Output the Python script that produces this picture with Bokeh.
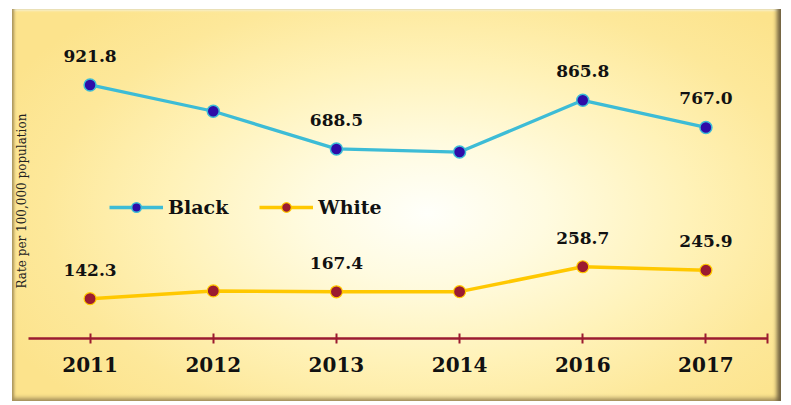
from bokeh.plotting import figure
from bokeh.models import (Range1d, FixedTicker, Legend, LegendItem, Title,
                          ColumnDataSource)
from bokeh.embed import file_html
from bokeh.resources import INLINE
from bokeh.core.properties import value

# ---- data ----
years = ["2011", "2012", "2013", "2014", "2016", "2017"]
black = [921.8, 826.0, 688.5, 677.0, 865.8, 767.0]
white = [142.3, 170.5, 167.4, 167.9, 258.7, 245.9]
black_labelled = [True, False, True, False, True, True]
white_labelled = [True, False, True, False, True, True]
series_names = ["Black", "White"]
y_title = "Rate per 100,000 population"

xs = list(range(len(years)))
FONT = "DejaVu Serif"

panel_css = {
    "background": "radial-gradient(ellipse 62% 70% at 54% 52%, #fffffa 0%, #fffbe0 25%, #fff2b8 55%, #fde89a 80%, #fce38c 100%)",
    "box-shadow": "inset 4px 0 3px -2px #a8925a, inset -6px 0 4px -2px #6f6040, inset 0 -5px 4px -2px #a8945e, inset 0 3px 2px -1px #fff8d0",
}

p = figure(width=769, height=392, x_range=Range1d(-0.5, len(years) - 0.5),
           y_range=Range1d(-3, 1157), output_backend="svg", toolbar_location=None,
           min_border_left=15, min_border_right=14, min_border_top=11,
           min_border_bottom=63, y_axis_location=None, margin=(9, 0, 0, 12),
           styles=panel_css, background_fill_color=None, border_fill_color=None,
           outline_line_color=None)
p.grid.visible = False

src_b = ColumnDataSource(dict(x=xs, y=black,
                              label=[f"{v:.1f}" if f else "" for v, f in zip(black, black_labelled)]))
src_w = ColumnDataSource(dict(x=xs, y=white,
                              label=[f"{v:.1f}" if f else "" for v, f in zip(white, white_labelled)]))

bl = p.line("x", "y", source=src_b, line_color="#3dbcd6", line_width=3.3)
bs = p.scatter("x", "y", source=src_b, size=12, fill_color="#2e0ca8",
               line_color="#3dbcd6", line_width=1.5)
wl = p.line("x", "y", source=src_w, line_color="#ffc800", line_width=3.5)
ws = p.scatter("x", "y", source=src_w, size=12, fill_color="#9b1b30",
               line_color="#ffc800", line_width=1.2)

for src in (src_b, src_w):
    p.text(x="x", y="y", text="label", source=src, text_font=value(FONT),
           text_font_style="bold", text_font_size="17px", text_align="center",
           text_baseline="alphabetic", y_offset=-29, text_color="#111111")

ax = p.xaxis[0]
ax.ticker = FixedTicker(ticks=xs + [len(years) - 0.5])
overrides = {i: y for i, y in zip(xs, years)}
overrides[len(years) - 0.5] = ""
ax.major_label_overrides = overrides
ax.axis_line_color = "#9b1b30"
ax.axis_line_width = 2.5
ax.major_tick_line_color = "#9b1b30"
ax.major_tick_line_width = 2
ax.major_tick_in = 5
ax.major_tick_out = 5
ax.minor_tick_line_color = None
ax.major_label_text_font = FONT
ax.major_label_text_font_style = "bold"
ax.major_label_text_font_size = "20px"
ax.major_label_text_color = "#111111"
ax.major_label_standoff = 13

legend = Legend(items=[LegendItem(label=series_names[0], renderers=[bl, bs]),
                       LegendItem(label=series_names[1], renderers=[wl, ws])],
                orientation="horizontal", location=(81, 119), glyph_width=54,
                glyph_height=24, label_standoff=5, spacing=31, padding=0, margin=0,
                background_fill_alpha=0, border_line_color=None,
                label_text_font=FONT, label_text_font_style="bold",
                label_text_font_size="19px", label_text_color="#111111")
p.add_layout(legend)

t = Title(text=y_title, align="left", offset=50, standoff=0, text_font=FONT,
          text_font_style="normal", text_font_size="12px", text_color="#222222")
p.add_layout(t, "left")

open("out.html", "w").write(file_html(p, INLINE))
